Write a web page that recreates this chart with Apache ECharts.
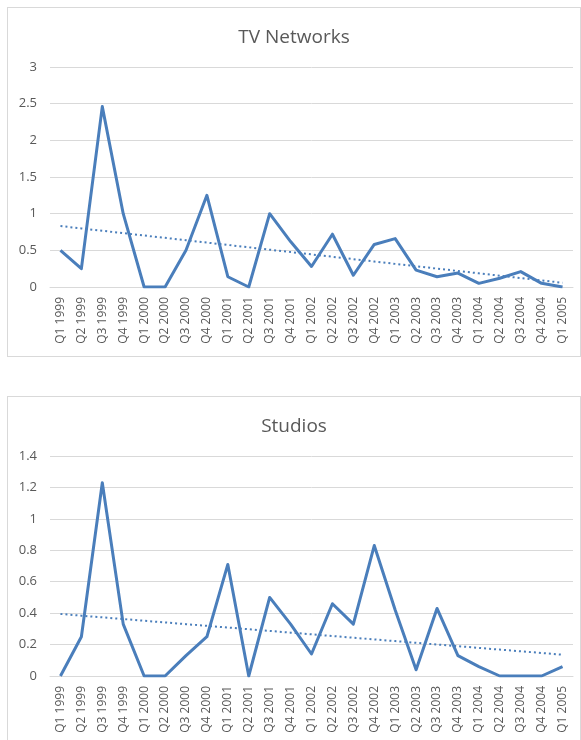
<!DOCTYPE html>
<html>
<head>
<meta charset="utf-8">
<script src="https://cdn.jsdelivr.net/npm/echarts@6/dist/echarts.min.js"></script>
<style>
  html, body { margin: 0; padding: 0; background: #fff; overflow: hidden; }
  .box {
    position: absolute;
    left: 7px;
    width: 574px;
    height: 350px;
    box-sizing: border-box;
    border: 1px solid #d9d9d9;
    background: #fff;
  }
  .chart { width: 572px; height: 348px; }
</style>
</head>
<body>
<div class="box" style="top:7px"><div id="tv-chart" class="chart"></div></div>
<div class="box" style="top:396px"><div id="studio-chart" class="chart"></div></div>
<script>
const quarters = [
    'Q1 1999', 'Q2 1999', 'Q3 1999', 'Q4 1999',
    'Q1 2000', 'Q2 2000', 'Q3 2000', 'Q4 2000',
    'Q1 2001', 'Q2 2001', 'Q3 2001', 'Q4 2001',
    'Q1 2002', 'Q2 2002', 'Q3 2002', 'Q4 2002',
    'Q1 2003', 'Q2 2003', 'Q3 2003', 'Q4 2003',
    'Q1 2004', 'Q2 2004', 'Q3 2004', 'Q4 2004',
    'Q1 2005'
];

const tvNetworks = [
    0.5, 0.25, 2.46, 1.0,
    0, 0, 0.5, 1.25,
    0.14, 0, 1.0, 0.62,
    0.28, 0.72, 0.16, 0.58,
    0.66, 0.23, 0.14, 0.19,
    0.05, 0.12, 0.21, 0.05,
    0
];

const studios = [
    0, 0.25, 1.23, 0.33,
    0, 0, 0.13, 0.25,
    0.71, 0, 0.5, 0.33,
    0.14, 0.46, 0.33, 0.83,
    0.42, 0.04, 0.43, 0.13,
    0.06, 0, 0, 0,
    0.06
];

// linear least-squares trend, like the spreadsheet's trendline
function linearTrend(values) {
    const n = values.length;
    let sx = 0, sy = 0, sxx = 0, sxy = 0;
    values.forEach((v, i) => {
        sx += i; sy += v; sxx += i * i; sxy += i * v;
    });
    const slope = (n * sxy - sx * sy) / (n * sxx - sx * sx);
    const intercept = (sy - slope * sx) / n;
    return values.map((v, i) => +(intercept + slope * i).toFixed(4));
}

const lineColor = '#4a7ebb';
const textColor = '#595959';
const gridColor = '#d9d9d9';
const fontFamily = '"Open Sans", "Noto Sans", sans-serif';

function renderChart(domId, title, values, yMax, yInterval) {
    const chart = echarts.init(document.getElementById(domId), null, { renderer: 'canvas' });
    const option = {
        animation: false,
        title: {
            text: title,
            left: 'center',
            top: 15,
            textStyle: { color: textColor, fontSize: 19, fontWeight: 'normal', fontFamily: fontFamily }
        },
        grid: { left: 42, right: 7, top: 59, bottom: 69 },
        xAxis: {
            type: 'category',
            data: quarters,
            boundaryGap: true,
            axisLine: { lineStyle: { color: gridColor, width: 1 } },
            axisTick: { show: false },
            axisLabel: {
                rotate: 90,
                interval: 0,
                color: textColor,
                fontSize: 12,
                fontFamily: fontFamily,
                margin: 10
            }
        },
        yAxis: {
            type: 'value',
            min: 0,
            max: yMax,
            interval: yInterval,
            axisLine: { show: false },
            axisTick: { show: false },
            splitLine: { lineStyle: { color: gridColor, width: 1 } },
            axisLabel: { color: textColor, fontSize: 13, fontFamily: fontFamily, margin: 13 }
        },
        series: [
            {
                type: 'line',
                data: values,
                symbol: 'none',
                lineStyle: { color: lineColor, width: 3, join: 'round' }
            },
            {
                type: 'line',
                data: linearTrend(values),
                symbol: 'none',
                lineStyle: { color: lineColor, width: 2, type: [2, 3] }
            }
        ]
    };
    chart.setOption(option);
    window.addEventListener('resize', () => chart.resize());
}

renderChart('tv-chart', 'TV Networks', tvNetworks, 3, 0.5);
renderChart('studio-chart', 'Studios', studios, 1.4, 0.2);
</script>
</body>
</html>
